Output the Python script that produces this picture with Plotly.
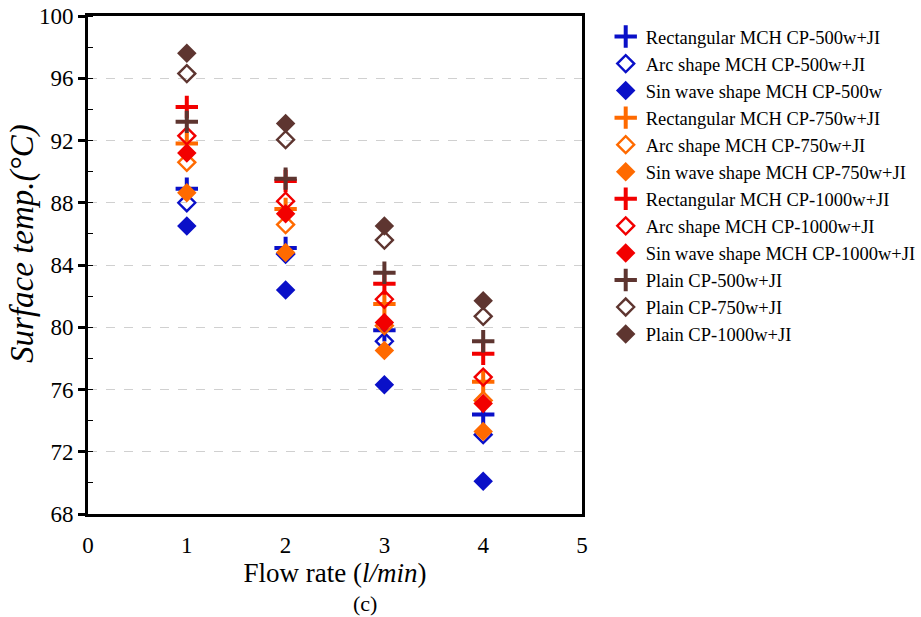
import plotly.graph_objects as go

flow_rate = [1, 2, 3, 4]
x_ticks = [0, 1, 2, 3, 4, 5]
y_ticks = [68, 72, 76, 80, 84, 88, 92, 96, 100]

series_names = [
    "Rectangular MCH CP-500w+JI",
    "Arc shape MCH CP-500w+JI",
    "Sin wave shape MCH CP-500w",
    "Rectangular MCH CP-750w+JI",
    "Arc shape MCH CP-750w+JI",
    "Sin wave shape MCH CP-750w+JI",
    "Rectangular MCH CP-1000w+JI",
    "Arc shape MCH CP-1000w+JI",
    "Sin wave shape MCH CP-1000w+JI",
    "Plain CP-500w+JI",
    "Plain CP-750w+JI",
    "Plain CP-1000w+JI",
]

rect_500 = [88.9, 85.1, 79.8, 74.4]
arc_500 = [88.0, 84.7, 79.1, 73.1]
sin_500 = [86.5, 82.4, 76.3, 70.1]
rect_750 = [91.8, 87.6, 81.5, 76.5]
arc_750 = [90.6, 86.6, 80.1, 75.3]
sin_750 = [88.65, 84.8, 78.5, 73.3]
rect_1000 = [94.15, 89.4, 82.8, 78.3]
arc_1000 = [92.3, 88.1, 81.8, 76.8]
sin_1000 = [91.2, 87.3, 80.3, 75.1]
plain_500 = [93.2, 89.55, 83.5, 79.1]
plain_750 = [96.3, 92.05, 85.6, 80.7]
plain_1000 = [97.6, 93.1, 86.5, 81.7]

series_values = [rect_500, arc_500, sin_500, rect_750, arc_750, sin_750,
                 rect_1000, arc_1000, sin_1000, plain_500, plain_750, plain_1000]

BLUE = "#0A10C8"
ORANGE = "#FF6A00"
RED = "#F20000"
BROWN = "#5E3530"
colors = [BLUE, BLUE, BLUE, ORANGE, ORANGE, ORANGE, RED, RED, RED, BROWN, BROWN, BROWN]
kinds = ["plus", "open", "fill"] * 4

fig = go.Figure()
for i, (name, vals, col, kind) in enumerate(zip(series_names, series_values, colors, kinds)):
    if kind == "plus":
        marker = dict(symbol="cross-thin", size=16, color=col,
                      line=dict(color=col, width=4))
    elif kind == "open":
        marker = dict(symbol="diamond-open", size=13, color=col,
                      line=dict(color=col, width=2.4))
    else:
        marker = dict(symbol="diamond", size=15, color=col,
                      line=dict(color=col, width=0))
    fig.add_trace(go.Scatter(x=flow_rate, y=vals, mode="markers", name=name,
                             legendgroup="g%d" % i, marker=marker))

font_family = "Liberation Serif, Times New Roman, serif"

fig.update_layout(
    width=921, height=617,
    margin=dict(l=88, r=339, t=16, b=103, autoexpand=False),
    paper_bgcolor="white", plot_bgcolor="white",
    font=dict(family=font_family, color="black", size=23),
    showlegend=True,
    legend=dict(x=1.048, y=0.996, xanchor="left", yanchor="top",
                font=dict(family=font_family, size=18.5, color="black"),
                tracegroupgap=0, itemwidth=30, bgcolor="rgba(0,0,0,0)"),
    xaxis=dict(range=[0, 5], tickvals=x_ticks, ticks="", showgrid=False,
               zeroline=False, showline=True, linewidth=3, linecolor="black",
               mirror=True, automargin=False, ticklabelstandoff=8,
               tickfont=dict(family=font_family, size=23),
               title=dict(text="Flow rate (<i>l/min</i>)",
                          font=dict(family=font_family, size=27), standoff=3)),
    yaxis=dict(range=[68, 100], tickvals=y_ticks, ticks="outside", ticklen=7,
               tickwidth=3, tickcolor="black", showgrid=True,
               gridcolor="#d0d0d0", griddash="dash", gridwidth=1,
               zeroline=False, showline=True, linewidth=3, linecolor="black",
               mirror=True, automargin=False,
               tickfont=dict(family=font_family, size=23),
               minor=dict(dtick=2, ticks="inside", ticklen=5, tickwidth=1,
                          tickcolor="black", showgrid=False)),
)

fig.add_annotation(text="<i>Surface temp.(°C)</i>", xref="paper", yref="paper",
                   x=-0.134, y=0.544, textangle=-90, showarrow=False,
                   font=dict(size=33, family=font_family),
                   xanchor="center", yanchor="middle")

fig.add_annotation(text="(c)", xref="paper", yref="paper", x=0.561, y=-0.179,
                   showarrow=False, font=dict(size=22, family=font_family),
                   xanchor="center", yanchor="middle")

fig.write_html("out.html", config={"displayModeBar": False},
               post_script="document.body.style.margin='0';document.body.style.overflow='hidden';")
